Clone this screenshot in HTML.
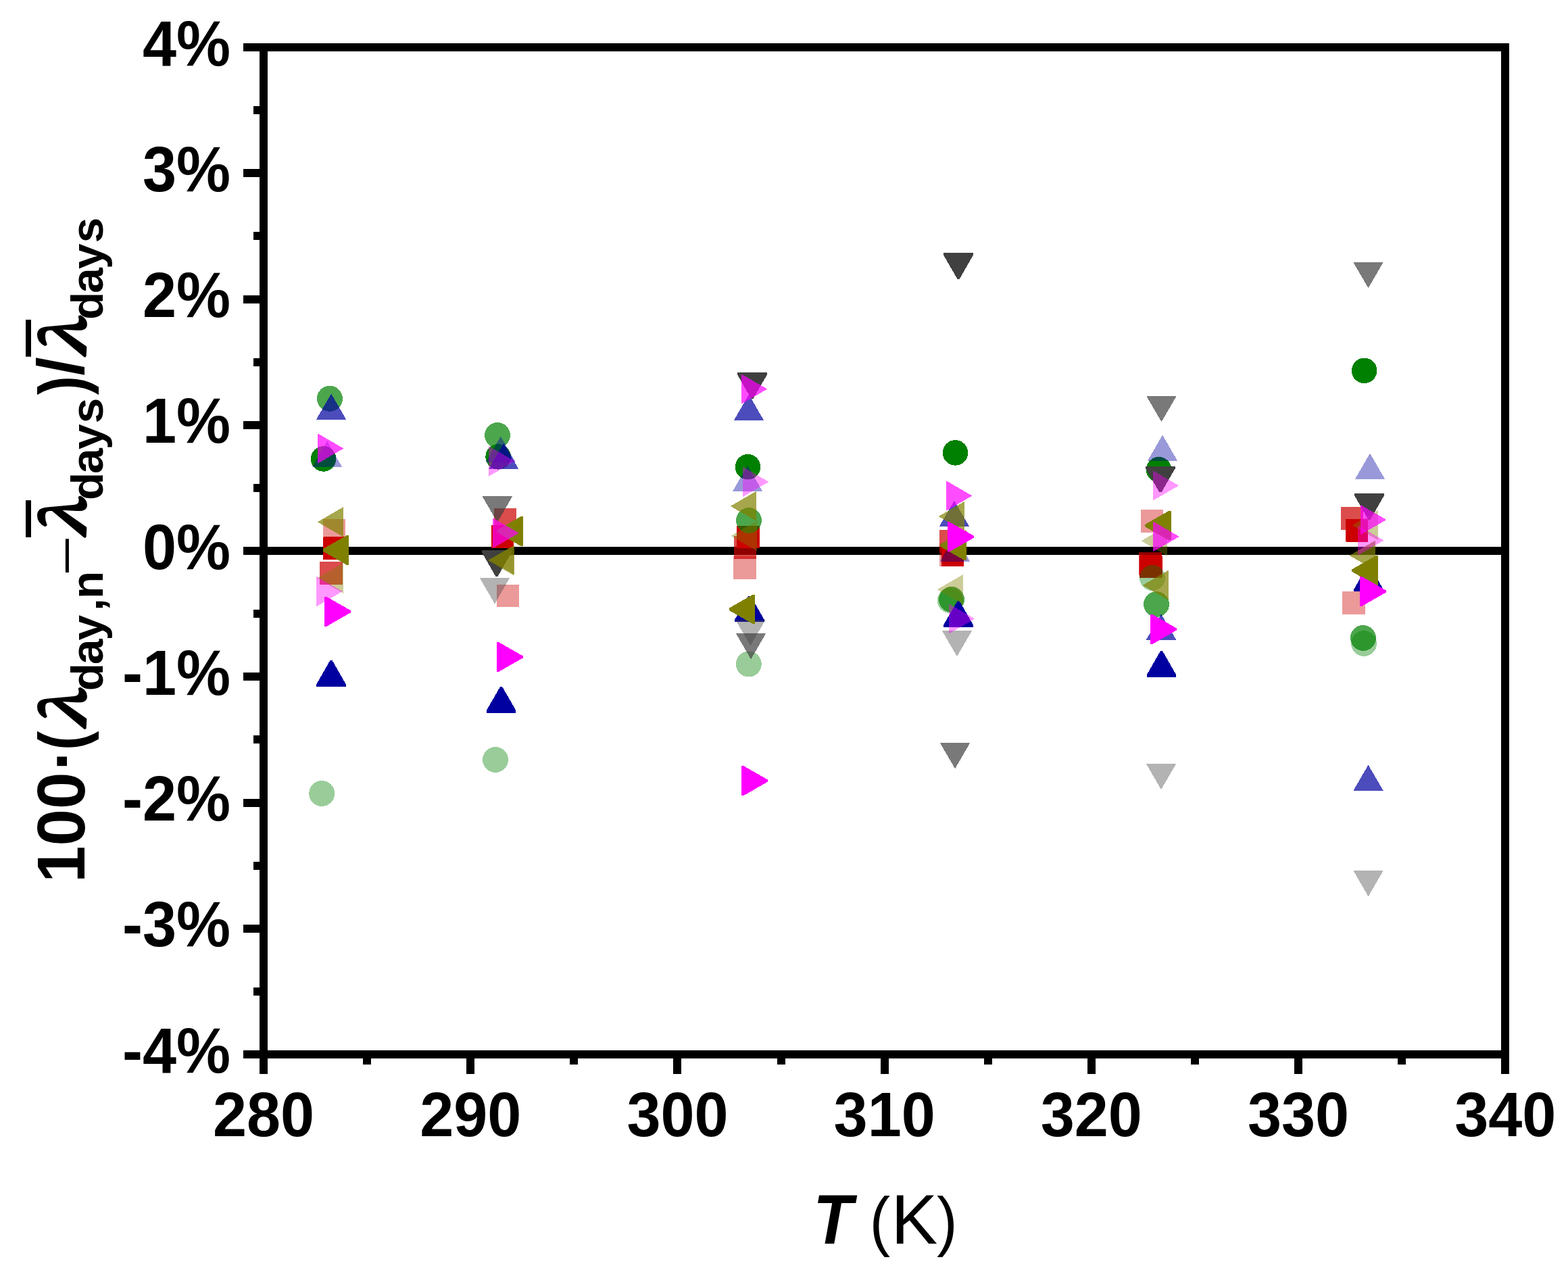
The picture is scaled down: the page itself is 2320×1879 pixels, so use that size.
<!DOCTYPE html>
<html lang="en"><head><meta charset="utf-8"><title>Relative deviation of thermal conductivity</title>
<style>
html,body{margin:0;padding:0;background:#fff;}
body{width:2320px;height:1879px;overflow:hidden;}
svg{display:block;}
text{font-family:"Liberation Sans",sans-serif;fill:#000;}
.tk{font-weight:bold;font-size:90px;}
.ax{stroke:#000;stroke-width:12.00;fill:none;shape-rendering:crispEdges;}
</style></head><body>
<svg width="2320" height="1879" viewBox="0 0 2320 1879" role="img" aria-label="Relative deviation of daily thermal conductivity versus temperature">
<rect x="0" y="0" width="2320" height="1879" fill="#fff"/>
<g class="ax">
<line x1="359.90" y1="1560.00" x2="390.10" y2="1560.00"/>
<line x1="375.10" y1="1466.88" x2="390.10" y2="1466.88"/>
<line x1="359.90" y1="1373.75" x2="390.10" y2="1373.75"/>
<line x1="375.10" y1="1280.62" x2="390.10" y2="1280.62"/>
<line x1="359.90" y1="1187.50" x2="390.10" y2="1187.50"/>
<line x1="375.10" y1="1094.38" x2="390.10" y2="1094.38"/>
<line x1="359.90" y1="1001.25" x2="390.10" y2="1001.25"/>
<line x1="375.10" y1="908.12" x2="390.10" y2="908.12"/>
<line x1="359.90" y1="815.00" x2="390.10" y2="815.00"/>
<line x1="375.10" y1="721.88" x2="390.10" y2="721.88"/>
<line x1="359.90" y1="628.75" x2="390.10" y2="628.75"/>
<line x1="375.10" y1="535.62" x2="390.10" y2="535.62"/>
<line x1="359.90" y1="442.50" x2="390.10" y2="442.50"/>
<line x1="375.10" y1="349.38" x2="390.10" y2="349.38"/>
<line x1="359.90" y1="256.25" x2="390.10" y2="256.25"/>
<line x1="375.10" y1="163.12" x2="390.10" y2="163.12"/>
<line x1="359.90" y1="70.00" x2="390.10" y2="70.00"/>
<line x1="390.10" y1="1560.00" x2="390.10" y2="1588.80"/>
<line x1="543.19" y1="1560.00" x2="543.19" y2="1574.60"/>
<line x1="696.28" y1="1560.00" x2="696.28" y2="1588.80"/>
<line x1="849.38" y1="1560.00" x2="849.38" y2="1574.60"/>
<line x1="1002.47" y1="1560.00" x2="1002.47" y2="1588.80"/>
<line x1="1155.56" y1="1560.00" x2="1155.56" y2="1574.60"/>
<line x1="1308.65" y1="1560.00" x2="1308.65" y2="1588.80"/>
<line x1="1461.74" y1="1560.00" x2="1461.74" y2="1574.60"/>
<line x1="1614.83" y1="1560.00" x2="1614.83" y2="1588.80"/>
<line x1="1767.93" y1="1560.00" x2="1767.93" y2="1574.60"/>
<line x1="1921.02" y1="1560.00" x2="1921.02" y2="1588.80"/>
<line x1="2074.11" y1="1560.00" x2="2074.11" y2="1574.60"/>
<line x1="2227.20" y1="1560.00" x2="2227.20" y2="1588.80"/>
<line x1="390.10" y1="815.00" x2="2227.20" y2="815.00"/>
</g>
<g id="markers" shape-rendering="crispEdges">
<g fill="#cc0000">
<rect x="477.7" y="767.6" width="33.6" height="33.6" fill-opacity="0.4"/>
<rect x="477.9" y="794.3" width="33.6" height="33.6" rx="1.3"/>
<rect x="473.1" y="831.1" width="33.6" height="33.6" fill-opacity="0.7"/>
<rect x="730.6" y="752.1" width="33.6" height="33.6" fill-opacity="0.7"/>
<rect x="726.7" y="777.2" width="33.6" height="33.6" rx="1.3"/>
<rect x="734.6" y="864.7" width="33.6" height="33.6" fill-opacity="0.4"/>
<rect x="1090.2" y="777.8" width="33.6" height="33.6" rx="1.3"/>
<rect x="1085.7" y="793.3" width="33.6" height="33.6" fill-opacity="0.7"/>
<rect x="1085.3" y="823.2" width="33.6" height="33.6" fill-opacity="0.4"/>
<rect x="1389.9" y="784.0" width="33.6" height="33.6" fill-opacity="0.7"/>
<rect x="1392.6" y="804.4" width="33.6" height="33.6" rx="1.3"/>
<rect x="1389.9" y="804.2" width="33.6" height="33.6" fill-opacity="0.4"/>
<rect x="1687.8" y="754.1" width="33.6" height="33.6" fill-opacity="0.4"/>
<rect x="1685.2" y="817.1" width="33.6" height="33.6" fill-opacity="0.7"/>
<rect x="1685.9" y="821.4" width="33.6" height="33.6" rx="1.3"/>
<rect x="1983.8" y="750.2" width="33.6" height="33.6" fill-opacity="0.7"/>
<rect x="1990.8" y="768.1" width="33.6" height="33.6" rx="1.3"/>
<rect x="1986.4" y="875.2" width="33.6" height="33.6" fill-opacity="0.4"/>
</g>
<g fill="#008000">
<circle cx="487.9" cy="589.8" r="19.0" fill-opacity="0.7"/>
<circle cx="478.6" cy="678.9" r="18.8"/>
<circle cx="476.2" cy="1174.0" r="19.0" fill-opacity="0.4"/>
<circle cx="736.0" cy="644.0" r="19.0" fill-opacity="0.7"/>
<circle cx="737.1" cy="675.8" r="18.8"/>
<circle cx="733.1" cy="1124.0" r="19.0" fill-opacity="0.4"/>
<circle cx="1106.5" cy="690.7" r="18.8"/>
<circle cx="1108.0" cy="770.0" r="19.0" fill-opacity="0.7"/>
<circle cx="1107.8" cy="982.5" r="19.0" fill-opacity="0.4"/>
<circle cx="1413.5" cy="669.9" r="18.8"/>
<circle cx="1408.0" cy="886.9" r="19.0" fill-opacity="0.7"/>
<circle cx="1405.9" cy="888.3" r="19.0" fill-opacity="0.4"/>
<circle cx="1714.6" cy="694.8" r="18.8"/>
<circle cx="1705.0" cy="854.9" r="19.0" fill-opacity="0.4"/>
<circle cx="1711.1" cy="894.0" r="19.0" fill-opacity="0.7"/>
<circle cx="2018.6" cy="548.4" r="18.8"/>
<circle cx="2016.9" cy="943.9" r="19.0" fill-opacity="0.7"/>
<circle cx="2018.1" cy="952.0" r="19.0" fill-opacity="0.4"/>
</g>
<g fill="#0000a0">
<polygon points="467.8,620.9 512.3,620.9 490.1,582.5" fill-opacity="0.7"/>
<polygon points="461.8,691.1 506.2,691.1 484.0,652.6" fill-opacity="0.4"/>
<polygon points="468.2,1015.7 468.2,1012.4 488.4,977.1 491.6,977.1 511.8,1012.4 511.8,1015.7"/>
<polygon points="718.5,684.0 763.0,684.0 740.8,645.6" fill-opacity="0.4"/>
<polygon points="722.9,694.1 767.4,694.1 745.1,655.6" fill-opacity="0.7"/>
<polygon points="719.8,1054.5 719.8,1051.2 740.0,1016.0 743.2,1016.0 763.4,1051.2 763.4,1054.5"/>
<polygon points="1085.8,622.1 1130.2,622.1 1108.0,583.7" fill-opacity="0.7"/>
<polygon points="1083.8,727.2 1128.3,727.2 1106.1,688.8" fill-opacity="0.4"/>
<polygon points="1087.2,920.1 1087.2,916.8 1107.4,881.5 1110.6,881.5 1130.8,916.8 1130.8,920.1"/>
<polygon points="1389.7,779.1 1434.2,779.1 1411.9,740.7" fill-opacity="0.7"/>
<polygon points="1390.8,831.0 1435.3,831.0 1413.0,792.6" fill-opacity="0.4"/>
<polygon points="1396.2,927.7 1396.2,924.4 1416.5,889.1 1419.6,889.1 1439.8,924.4 1439.8,927.7"/>
<polygon points="1697.8,682.0 1742.3,682.0 1720.1,643.6" fill-opacity="0.4"/>
<polygon points="1695.8,946.7 1740.3,946.7 1718.0,908.3" fill-opacity="0.7"/>
<polygon points="1696.8,1001.6 1696.8,998.4 1717.0,963.1 1720.1,963.1 1740.3,998.4 1740.3,1001.6"/>
<polygon points="2004.8,709.1 2049.2,709.1 2027.0,670.7" fill-opacity="0.4"/>
<polygon points="2003.1,875.3 2003.1,872.0 2023.3,836.7 2026.5,836.7 2046.7,872.0 2046.7,875.3"/>
<polygon points="2002.3,1170.0 2046.8,1170.0 2024.5,1131.6" fill-opacity="0.7"/>
</g>
<g fill="#404040">
<polygon points="713.6,734.4 758.1,734.4 735.9,772.8" fill-opacity="0.7"/>
<polygon points="713.2,814.2 713.2,817.5 733.4,852.8 736.6,852.8 756.8,817.5 756.8,814.2"/>
<polygon points="709.8,855.0 754.2,855.0 732.0,893.4" fill-opacity="0.4"/>
<polygon points="1091.2,551.2 1091.2,554.5 1111.4,589.8 1114.6,589.8 1134.8,554.5 1134.8,551.2"/>
<polygon points="1088.2,916.9 1132.7,916.9 1110.4,955.3" fill-opacity="0.4"/>
<polygon points="1088.8,937.0 1133.3,937.0 1111.1,975.4" fill-opacity="0.7"/>
<polygon points="1396.2,374.3 1396.2,377.6 1416.5,412.9 1419.6,412.9 1439.8,377.6 1439.8,374.3"/>
<polygon points="1393.7,932.9 1438.2,932.9 1416.0,971.3" fill-opacity="0.4"/>
<polygon points="1390.8,1099.0 1435.3,1099.0 1413.1,1137.4" fill-opacity="0.7"/>
<polygon points="1696.2,585.8 1740.8,585.8 1718.5,624.2" fill-opacity="0.7"/>
<polygon points="1695.2,689.7 1695.2,693.0 1715.4,728.3 1718.6,728.3 1738.8,693.0 1738.8,689.7"/>
<polygon points="1695.8,1129.8 1740.3,1129.8 1718.0,1168.2" fill-opacity="0.4"/>
<polygon points="2002.2,387.8 2046.8,387.8 2024.5,426.2" fill-opacity="0.7"/>
<polygon points="2004.2,730.0 2004.2,733.3 2024.4,768.6 2027.6,768.6 2047.8,733.3 2047.8,730.0"/>
<polygon points="2002.3,1287.9 2046.8,1287.9 2024.5,1326.3" fill-opacity="0.4"/>
</g>
<g fill="#808000">
<polygon points="508.2,750.0 508.2,794.5 469.9,772.3" fill-opacity="0.7"/>
<polygon points="516.3,792.2 513.0,792.2 477.7,812.4 477.7,815.6 513.0,835.8 516.3,835.8"/>
<polygon points="507.6,833.1 507.6,877.6 469.2,855.4" fill-opacity="0.4"/>
<polygon points="773.8,764.2 770.5,764.2 735.2,784.4 735.2,787.6 770.5,807.8 773.8,807.8"/>
<polygon points="761.2,806.4 761.2,850.9 722.8,828.6" fill-opacity="0.7"/>
<polygon points="760.4,807.1 760.4,851.6 722.0,829.4" fill-opacity="0.4"/>
<polygon points="1119.2,726.6 1119.2,771.1 1080.8,748.9" fill-opacity="0.7"/>
<polygon points="1120.0,770.6 1120.0,815.1 1081.6,792.9" fill-opacity="0.4"/>
<polygon points="1117.3,879.5 1114.0,879.5 1078.7,899.7 1078.7,902.9 1114.0,923.1 1117.3,923.1"/>
<polygon points="1427.1,741.9 1427.1,786.4 1388.7,764.1" fill-opacity="0.7"/>
<polygon points="1429.8,785.1 1426.5,785.1 1391.2,805.3 1391.2,808.5 1426.5,828.7 1429.8,828.7"/>
<polygon points="1425.1,850.0 1425.1,894.5 1386.7,872.2" fill-opacity="0.4"/>
<polygon points="1732.7,755.8 1729.4,755.8 1694.1,776.0 1694.1,779.2 1729.4,799.4 1732.7,799.4"/>
<polygon points="1727.0,778.0 1727.0,822.5 1688.6,800.2" fill-opacity="0.4"/>
<polygon points="1729.0,843.6 1729.0,888.1 1690.6,865.9" fill-opacity="0.7"/>
<polygon points="2039.2,754.9 2039.2,799.4 2000.8,777.1" fill-opacity="0.4"/>
<polygon points="2035.1,799.6 2035.1,844.1 1996.7,821.9" fill-opacity="0.7"/>
<polygon points="2038.8,822.3 2035.5,822.3 2000.2,842.5 2000.2,845.7 2035.5,865.9 2038.8,865.9"/>
</g>
<g fill="#ff00ff">
<polygon points="469.9,641.2 469.9,685.8 508.3,663.5" fill-opacity="0.7"/>
<polygon points="468.4,852.8 468.4,897.2 506.8,875.0" fill-opacity="0.4"/>
<polygon points="480.3,883.0 483.6,883.0 518.9,903.2 518.9,906.4 483.6,926.6 480.3,926.6"/>
<polygon points="723.4,660.1 723.4,704.6 761.8,682.4" fill-opacity="0.4"/>
<polygon points="729.4,766.5 729.4,811.0 767.8,788.7" fill-opacity="0.7"/>
<polygon points="734.9,950.2 738.2,950.2 773.5,970.4 773.5,973.6 738.2,993.8 734.9,993.8"/>
<polygon points="1096.8,553.4 1096.8,597.9 1135.2,575.6" fill-opacity="0.7"/>
<polygon points="1099.0,690.6 1099.0,735.1 1137.4,712.9" fill-opacity="0.4"/>
<polygon points="1097.3,1133.3 1100.6,1133.3 1135.9,1153.5 1135.9,1156.7 1100.6,1176.9 1097.3,1176.9"/>
<polygon points="1399.9,711.2 1399.9,755.8 1438.3,733.5" fill-opacity="0.7"/>
<polygon points="1401.9,772.4 1405.2,772.4 1440.5,792.6 1440.5,795.8 1405.2,816.0 1401.9,816.0"/>
<polygon points="1403.8,893.2 1403.8,937.8 1442.2,915.5" fill-opacity="0.4"/>
<polygon points="1705.8,696.1 1705.8,740.6 1744.2,718.4" fill-opacity="0.4"/>
<polygon points="1706.4,771.6 1706.4,816.1 1744.8,793.9" fill-opacity="0.7"/>
<polygon points="1702.2,909.2 1705.5,909.2 1740.8,929.4 1740.8,932.6 1705.5,952.8 1702.2,952.8"/>
<polygon points="2012.9,746.8 2012.9,791.2 2051.3,769.0" fill-opacity="0.7"/>
<polygon points="2009.1,777.2 2009.1,821.8 2047.5,799.5" fill-opacity="0.4"/>
<polygon points="2011.9,853.1 2015.2,853.1 2050.5,873.3 2050.5,876.5 2015.2,896.7 2011.9,896.7"/>
</g>
</g>
<rect class="ax" x="390.10" y="70.00" width="1837.10" height="1490.00"/>
<g class="tk">
<text transform="translate(341.1,1586.70) scale(1,1.05)" text-anchor="end">-4%</text>
<text transform="translate(341.1,1400.45) scale(1,1.05)" text-anchor="end">-3%</text>
<text transform="translate(341.1,1214.20) scale(1,1.05)" text-anchor="end">-2%</text>
<text transform="translate(341.1,1027.95) scale(1,1.05)" text-anchor="end">-1%</text>
<text transform="translate(341.1,841.70) scale(1,1.05)" text-anchor="end">0%</text>
<text transform="translate(341.1,655.45) scale(1,1.05)" text-anchor="end">1%</text>
<text transform="translate(341.1,469.20) scale(1,1.05)" text-anchor="end">2%</text>
<text transform="translate(341.1,282.95) scale(1,1.05)" text-anchor="end">3%</text>
<text transform="translate(341.1,96.70) scale(1,1.05)" text-anchor="end">4%</text>
<text transform="translate(390.10,1680.8) scale(1,1.04)" text-anchor="middle">280</text>
<text transform="translate(696.28,1680.8) scale(1,1.04)" text-anchor="middle">290</text>
<text transform="translate(1002.47,1680.8) scale(1,1.04)" text-anchor="middle">300</text>
<text transform="translate(1308.65,1680.8) scale(1,1.04)" text-anchor="middle">310</text>
<text transform="translate(1614.83,1680.8) scale(1,1.04)" text-anchor="middle">320</text>
<text transform="translate(1921.02,1680.8) scale(1,1.04)" text-anchor="middle">330</text>
<text transform="translate(2227.20,1680.8) scale(1,1.04)" text-anchor="middle">340</text>
</g>
<text font-size="99"><tspan x="1203.2" y="1840.0" font-size="103.36" textLength="58.36" lengthAdjust="spacingAndGlyphs" font-weight="bold" font-style="italic">T</tspan><tspan x="1262" y="1840"> </tspan><tspan x="1286.6" y="1840.0" font-size="99.00" textLength="30.67" lengthAdjust="spacingAndGlyphs">(</tspan><tspan x="1318.4" y="1840.0" font-size="103.36" textLength="68.67" lengthAdjust="spacingAndGlyphs">K</tspan><tspan x="1385.9" y="1840.0" font-size="99.00" textLength="30.67" lengthAdjust="spacingAndGlyphs">)</tspan></text>
<g transform="translate(125.8,0) rotate(-90)" font-weight="bold" font-size="99">
<text><tspan x="-1306.0" y="-0.8" font-size="100.94" textLength="163.52" lengthAdjust="spacingAndGlyphs">100</tspan><tspan x="-1140.0" y="-1.0" font-size="98">·</tspan><tspan x="-1110.0" y="0.0" font-size="99.00" textLength="28.36" lengthAdjust="spacingAndGlyphs">(</tspan><tspan x="-1079.3" y="0.0" font-size="84.80" textLength="58.06" lengthAdjust="spacingAndGlyphs" font-style="italic" stroke="#000" stroke-width="3.2" stroke-linejoin="round" style="font-family:'Noto Serif CJK SC','Liberation Serif',serif">λ</tspan><tspan x="-1022.3 -983.1 -947.5 -904.0 -886.0" y="26.2" font-size="67.5">day,n</tspan><tspan x="-852.0" y="-2.9" font-size="71.28" textLength="59.85" lengthAdjust="spacingAndGlyphs" font-weight="normal">−</tspan><tspan x="-796.0" y="0.0" font-size="84.80" textLength="58.06" lengthAdjust="spacingAndGlyphs" font-style="italic" stroke="#000" stroke-width="3.2" stroke-linejoin="round" style="font-family:'Noto Serif CJK SC','Liberation Serif',serif">λ</tspan><tspan x="-739.9 -700.7 -665.1 -626.2" y="26.2" font-size="67.5">days</tspan><tspan x="-584.2" y="0.0" font-size="99.00" textLength="28.36" lengthAdjust="spacingAndGlyphs">)</tspan><tspan x="-555.7" y="-2.5" font-size="95.53" textLength="27.52" lengthAdjust="spacingAndGlyphs">/</tspan><tspan x="-528.8" y="0.0" font-size="84.80" textLength="58.06" lengthAdjust="spacingAndGlyphs" font-style="italic" stroke="#000" stroke-width="3.2" stroke-linejoin="round" style="font-family:'Noto Serif CJK SC','Liberation Serif',serif">λ</tspan><tspan x="-472.9 -433.7 -398.1 -359.2" y="26.2" font-size="67.5">days</tspan></text>
<rect x="-794.9" y="-87.8" width="54.7" height="8"/>
<rect x="-527.7" y="-87.8" width="54.7" height="8"/>
</g>
</svg>
</body></html>
